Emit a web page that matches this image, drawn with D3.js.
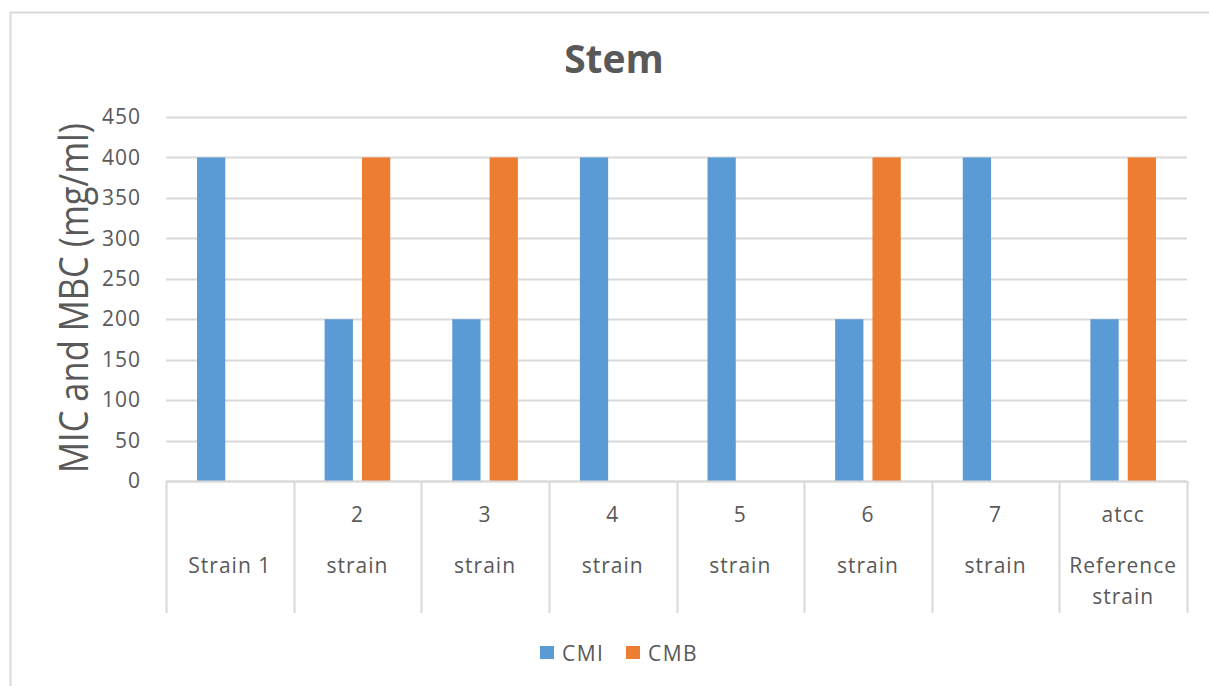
<!DOCTYPE html>
<html>
<head>
<meta charset="utf-8">
<script src="https://cdn.jsdelivr.net/npm/d3@7"></script>
<style>
  html, body { margin: 0; padding: 0; background: #ffffff; }
  svg { display: block; }
  text { font-family: "Open Sans", "Noto Sans", sans-serif; fill: #595959; }
</style>
</head>
<body>
<svg id="chart" width="1209" height="686"></svg>
<script>
// Category labels: an upper line (strain number) and a lower line
const labelTop = ["", "2", "3", "4", "5", "6", "7", "atcc"];
const labelBottom = ["Strain 1", "strain", "strain", "strain", "strain", "strain", "strain", "Reference strain"];
const seriesNames = ["CMI", "CMB"];
const cmiValues = [400, 200, 200, 400, 400, 200, 400, 200];
const cmbValues = [0, 400, 400, 0, 0, 400, 0, 400];
const yTicks = [0, 50, 100, 150, 200, 250, 300, 350, 400, 450];
const colors = ["#5B9BD5", "#ED7D31"];

const svg = d3.select("#chart");
const plot = { left: 166, right: 1187, top: 117, bottom: 481 };
const gridColor = "#d9d9d9";

// Outer chart frame (extends past the right and bottom edges)
svg.append("rect")
  .attr("x", 10.5).attr("y", 12.5)
  .attr("width", 1230).attr("height", 700)
  .attr("fill", "#fff").attr("stroke", gridColor).attr("stroke-width", 2);

const idx = d3.range(labelBottom.length);
const x = d3.scaleBand().domain(idx).range([plot.left, plot.right]).padding(0);
const xInner = d3.scaleBand().domain(seriesNames)
  .range([x.bandwidth() * 0.243, x.bandwidth() * 0.757]).paddingInner(0.243);
const y = d3.scaleLinear().domain([0, 450]).range([plot.bottom, plot.top]);

// Title
svg.append("text")
  .attr("x", 614).attr("y", 73)
  .attr("text-anchor", "middle")
  .style("font-size", "39px").style("font-weight", 700)
  .text("Stem");

// Horizontal gridlines
svg.append("g").selectAll("line")
  .data(yTicks)
  .join("line")
  .attr("x1", plot.left).attr("x2", plot.right)
  .attr("y1", d => Math.round(y(d)) + 0.5).attr("y2", d => Math.round(y(d)) + 0.5)
  .attr("stroke", gridColor).attr("stroke-width", 2);

// Y axis tick labels
const yAxis = d3.axisLeft(y).tickValues(yTicks).tickSize(0).tickPadding(0);
const gy = svg.append("g").attr("transform", `translate(${plot.left - 25},0)`).call(yAxis);
gy.select(".domain").remove();
gy.selectAll("text")
  .style("font-size", "21px").style("letter-spacing", "1px")
  .style("font-family", "'Open Sans', sans-serif").attr("fill", "#595959");

// Y axis title
svg.append("text")
  .attr("transform", "translate(88,298) rotate(-90)")
  .attr("text-anchor", "middle")
  .attr("textLength", 350).attr("lengthAdjust", "spacingAndGlyphs")
  .style("font-size", "41px")
  .attr("fill", "#404040")
  .text("MIC and MBC (mg/ml)");

// Bars
const series = [cmiValues, cmbValues];
const groups = svg.append("g").selectAll("g")
  .data(seriesNames)
  .join("g")
  .attr("fill", (d, i) => colors[i]);
groups.selectAll("rect")
  .data((name, si) => series[si].map((v, ci) => ({ name, v, ci })))
  .join("rect")
  .attr("x", d => x(d.ci) + xInner(d.name))
  .attr("width", xInner.bandwidth())
  .attr("y", d => y(d.v))
  .attr("height", d => y(0) - y(d.v));

// Category table under the axis
const tableBottom = 613;
const bounds = idx.map(i => x(i)).concat([plot.right]);
svg.append("g").selectAll("line")
  .data(bounds)
  .join("line")
  .attr("x1", d => Math.round(d) + 0.5).attr("x2", d => Math.round(d) + 0.5)
  .attr("y1", plot.bottom).attr("y2", tableBottom)
  .attr("stroke", gridColor).attr("stroke-width", 2);
svg.append("line")
  .attr("x1", plot.left).attr("x2", plot.right)
  .attr("y1", plot.bottom + 0.5).attr("y2", plot.bottom + 0.5)
  .attr("stroke", gridColor).attr("stroke-width", 2);

const labels = svg.append("g").selectAll("g")
  .data(idx)
  .join("g")
  .attr("transform", i => `translate(${x(i) + x.bandwidth() / 2},0)`);
labels.append("text")
  .attr("y", 522)
  .attr("text-anchor", "middle")
  .style("font-size", "21px").style("letter-spacing", "1px")
  .text(i => labelTop[i]);
labels.each(function (i) {
  const words = labelBottom[i] === "Reference strain" ? ["Reference", "strain"] : [labelBottom[i]];
  d3.select(this).selectAll("text.bottom")
    .data(words)
    .join("text")
    .attr("class", "bottom")
    .attr("y", (w, k) => 573 + k * 31)
    .attr("text-anchor", "middle")
    .style("font-size", "21px").style("letter-spacing", "1px")
    .text(w => w);
});

// Legend
const legendX = [540, 626];
const legend = svg.append("g").selectAll("g")
  .data(seriesNames)
  .join("g")
  .attr("transform", (d, i) => `translate(${legendX[i]},646)`);
legend.append("rect")
  .attr("width", 14).attr("height", 13)
  .attr("fill", (d, i) => colors[i]);
legend.append("text")
  .attr("x", 22).attr("y", 14.5)
  .style("font-size", "21px").style("letter-spacing", "1.5px")
  .text(d => d);
</script>
</body>
</html>
